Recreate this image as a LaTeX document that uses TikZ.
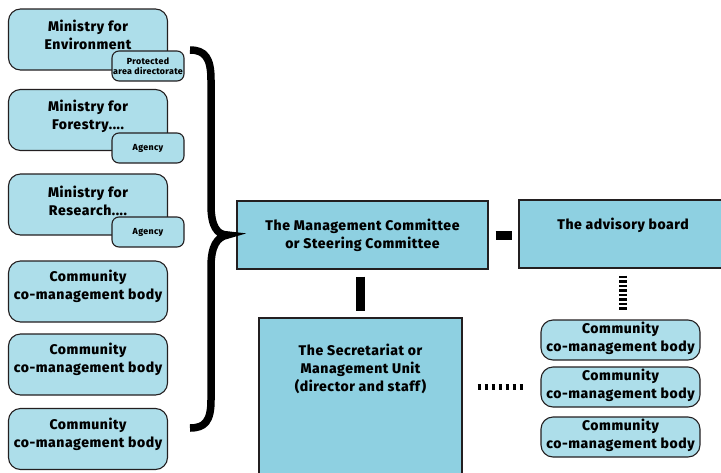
\documentclass[tikz,border=0pt]{standalone}
\usepackage{fontspec}
\setmainfont{Fira Sans}[BoldFont={Fira Sans ExtraBold},BoldFeatures={LetterSpace=4}]
\usepackage{xcolor}
\usetikzlibrary{positioning,calc}

\definecolor{boxlight}{RGB}{173,222,234}
\definecolor{boxmain}{RGB}{142,208,225}
\definecolor{edge}{RGB}{35,31,32}

\begin{document}
\begin{tikzpicture}[x=1pt,y=1pt,yscale=-1,xscale=1,
		bigbox/.style={draw=edge,line width=1.1pt,fill=boxlight,rounded corners=12pt,minimum width=159pt,minimum height=61pt,inner sep=0pt},
		tagbox/.style={draw=edge,line width=1.1pt,fill=boxlight,rounded corners=7pt,minimum width=72pt,minimum height=30pt,inner sep=0pt,font=\bfseries\fontsize{8.8}{10}\selectfont,align=center},
		sidebox/.style={draw=edge,line width=1.1pt,fill=boxlight,rounded corners=12pt,minimum width=159pt,minimum height=40pt,inner sep=0pt},
		mainbox/.style={draw=edge,line width=1.1pt,fill=boxmain,inner sep=0pt},
		boxtext/.style={inner sep=0pt,font=\bfseries\fontsize{14}{18}\selectfont,align=center},
		bar/.style={line width=9pt},
		stripes/.style={line width=8pt,dash pattern=on 2.5pt off 2pt}
	]
		%uncomment if require: \path (0,472); %set diagram height to 472
		\useasboundingbox (0,0) rectangle (721,472);
		\clip (0,0) rectangle (721,472);
		
		%Rounded Rect [left column]
		\node [bigbox] (env) at (88,39.5) {};
		\node [boxtext] (envtxt) at ($(env.center)+(0,-5)$) {Ministry for\\Environment};
		\node [tagbox] (pad) at (148,66) {Protected\\area directorate};
		
		\node [bigbox] (forest) at (88,120) {};
		\node [boxtext] (foresttxt) at ($(forest.center)+(0,-4)$) {Ministry for\\Forestry....};
		\node [tagbox] (agencya) at (148,148) {Agency};
		
		\node [bigbox] (research) at (88,204.5) {};
		\node [boxtext] (researchtxt) at ($(research.center)+(0,-4)$) {Ministry for\\Research....};
		\node [tagbox] (agencyb) at (148,232) {Agency};
		
		\node [bigbox] (comma) at (88,291.5) {};
		\node [boxtext] (commatxt) at ($(comma.center)+(0,-5)$) {Community\\co-management body};
		\node [bigbox] (commb) at (88,364.5) {};
		\node [boxtext] (commbtxt) at ($(commb.center)+(0,-5)$) {Community\\co-management body};
		\node [bigbox] (commc) at (88,439) {};
		\node [boxtext] (commctxt) at ($(commc.center)+(0,-5)$) {Community\\co-management body};
		
		%Rect [committees]
		\node [mainbox,minimum width=251pt,minimum height=68pt] (mgmt) at (362.5,235) {};
		\node [boxtext] (mgmttxt) at (mgmt.center) {The Management Committee\\or Steering Committee};
		\node [mainbox,minimum width=208pt,minimum height=68pt] (adv) at (623,234) {};
		\node [boxtext] (advtxt) at ($(adv.center)+(0,-9)$) {The advisory board};
		\node [mainbox,minimum width=203pt,minimum height=170pt] (sec) at (360.5,403) {};
		\node [boxtext] (sectxt) at ($(sec.north)+(0,51)$) {The Secretariat or\\Management Unit\\(director and staff)};
		
		%Rounded Rect [right column]
		\node [sidebox] (sidea) at (620.5,340) {};
		\node [boxtext] (sideatxt) at ($(sidea.center)+(0,-2)$) {Community\\co-management body};
		\node [sidebox] (sideb) at (620.5,387) {};
		\node [boxtext] (sidebtxt) at ($(sideb.center)+(0,-2)$) {Community\\co-management body};
		\node [sidebox] (sidec) at (620.5,437) {};
		\node [boxtext] (sidectxt) at ($(sidec.center)+(0,-2)$) {Community\\co-management body};
		
		%Straight Lines
		\draw [bar,shorten <=7pt,shorten >=6pt] (mgmt.east) -- (mgmt.east -| adv.west) ;
		\draw [bar,shorten <=7pt,shorten >=6pt] (sec.north |- mgmt.south) -- (sec.north) ;
		\draw [stripes,shorten <=7pt,shorten >=9pt] (adv.south) -- (adv.south |- sidea.north) ;
		\draw [stripes,line width=6pt,dash pattern=on 3pt off 4pt,shorten <=15pt,shorten >=15pt] (sideb.west -| sec.east) -- (sideb.west) ;
		
		%Curve Lines [brace]
		\coordinate (tip) at ($(mgmt.west)+(-9,0)$);
		\draw [line width=7.5pt] (190,50) .. controls (205,50) and (211,58) .. (211,80) -- (211,205) .. controls (211,226) and (217,235) .. (tip) .. controls (217,237) and (211,246) .. (211,267) -- (211,400) .. controls (211,421) and (205,428) .. (190,428) ;
		
	\end{tikzpicture}
\end{document}
